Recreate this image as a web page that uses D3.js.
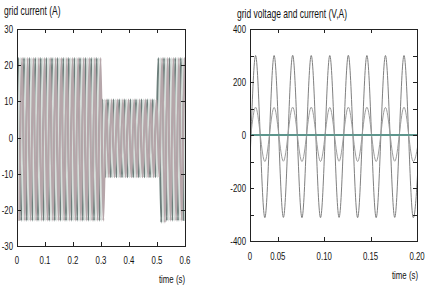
<!DOCTYPE html>
<html lang="en">
<head>
    <meta charset="UTF-8">
    <title>grid current / grid voltage and current</title>
    <style>
        body { margin: 0; background: #fff; }
        svg { display: block; }
        text { font-family: "Liberation Sans", Arial, sans-serif; fill: #111; }
    </style>
</head>
<body>
    <script src="https://d3js.org/d3.v7.min.js"></script>
    <script>
        // left panel: three phase grid current, one peak/trough per 50 Hz cycle
        const gridCycleStart = [0, 0.02, 0.04, 0.06, 0.08, 0.10, 0.12, 0.14, 0.16, 0.18,
            0.20, 0.22, 0.24, 0.26, 0.28, 0.30, 0.32, 0.34, 0.36, 0.38,
            0.40, 0.42, 0.44, 0.46, 0.48, 0.50, 0.52, 0.54, 0.56, 0.58]
        const gridPeak = [22, 22, 22, 22, 22, 22, 22, 22, 22, 22,
            22, 22, 22, 22, 22, 10.5, 10.5, 10.5, 10.5, 10.5,
            10.5, 10.5, 10.5, 10.5, 10.5, 22, 22, 22, 22, 22]
        const gridTrough = [-23, -23, -23, -23, -23, -23, -23, -23, -23, -23,
            -23, -23, -23, -23, -23, -11, -11, -11, -11, -11,
            -11, -11, -11, -11, -11, -23.5, -23, -23, -23, -23]
        const phaseShift = [0, 0.0067, 0.0133]
        const leftXTicks = [0, 0.1, 0.2, 0.3, 0.4, 0.5, 0.6]
        const leftYTicks = [-30, -20, -10, 0, 10, 20, 30]

        // right panel: grid voltage and current extrema
        const peakTimes = [0.006, 0.026, 0.046, 0.066, 0.086, 0.106, 0.126, 0.146, 0.166, 0.186, 0.206]
        const troughTimes = [0.016, 0.036, 0.056, 0.076, 0.096, 0.116, 0.136, 0.156, 0.176, 0.196]
        const voltPeaks = [300, 300, 300, 301, 300, 300, 301, 300, 300, 300, 300]
        const voltTroughs = [-312, -312, -311, -312, -312, -311, -312, -312, -311, -312]
        const currPeaks = [105, 105, 104, 105, 105, 104, 105, 105, 104, 105, 105]
        const currTroughs = [-100, -100, -99, -100, -100, -99, -100, -100, -99, -100]
        const refTimes = [0.02, 0.2]
        const refValues = [0, 0]
        const rightXTicks = [0.02, 0.05, 0.10, 0.15, 0.20]
        const rightXLabels = ['0', '0.05', '0.10', '0.15', '0.20']
        const rightYTicks = [-400, -200, 0, 200, 400]
        const rightMinorTicks = [-300, -100, 100, 300]

        const width = 428
        const height = 294
        const phaseColors = ['#6c7e7b', '#d6dfdb', '#b6a6aa']
        const squeeze = 0.68

        const svg = d3.select('body').append('svg')
            .attr('width', width)
            .attr('height', height)

        // narrow text, the picture uses a condensed face
        function label(g, x, y, str, size, anchor) {
            return g.append('text')
                .attr('transform', `translate(${x},${y}) scale(${squeeze},1)`)
                .attr('text-anchor', anchor || 'start')
                .attr('font-size', size)
                .text(str)
        }

        function frame(g, x, y, xTicks, yTicks, xFmt, minorY, xLabY) {
            const [x0, x1] = x.range()
            const [y0, y1] = y.range()
            g.append('rect')
                .attr('x', x0 + 0.5).attr('y', y1 + 0.5)
                .attr('width', x1 - x0).attr('height', y0 - y1)
                .attr('fill', 'none').attr('stroke', '#222').attr('stroke-width', 1)

            const tl = 4
            const allY = yTicks.concat(minorY || [])
            xTicks.forEach(t => {
                const px = Math.round(x(t)) + 0.5
                g.append('line').attr('x1', px).attr('x2', px).attr('y1', y0).attr('y2', y0 - tl)
                    .attr('stroke', '#222')
                g.append('line').attr('x1', px).attr('x2', px).attr('y1', y1).attr('y2', y1 + tl)
                    .attr('stroke', '#222')
            })
            allY.forEach(t => {
                const py = Math.round(y(t)) + 0.5
                g.append('line').attr('x1', x0).attr('x2', x0 + tl).attr('y1', py).attr('y2', py)
                    .attr('stroke', '#222')
                g.append('line').attr('x1', x1).attr('x2', x1 - tl).attr('y1', py).attr('y2', py)
                    .attr('stroke', '#222')
            })
            xTicks.forEach((t, i) => label(g, x(t), y0 + xLabY, xFmt(t, i), 11.5, 'middle'))
            yTicks.forEach(t => label(g, x0 - 4, y(t) + 4, String(t), 11.5, 'end'))
        }

        // ---------- left panel ----------
        const xL = d3.scaleLinear().domain([0, 0.6]).range([17, 185])
        const yL = d3.scaleLinear().domain([-30, 30]).range([246, 29])

        svg.append('clipPath').attr('id', 'clipL')
            .append('rect').attr('x', 17).attr('y', 29).attr('width', 168).attr('height', 217)

        const lineL = d3.line()
            .x(d => xL(d[0]))
            .y(d => yL(d[1]))
            .curve(d3.curveMonotoneX)

        const left = svg.append('g')
        const traces = left.append('g').attr('clip-path', 'url(#clipL)')
        phaseShift.forEach((shift, p) => {
            const pts = [[gridCycleStart[0] - 0.005 + shift, gridTrough[0]]]
            gridCycleStart.forEach((s, k) => {
                pts.push([s + 0.005 + shift, gridPeak[k]])
                pts.push([s + 0.015 + shift, gridTrough[k]])
            })
            traces.append('path')
                .attr('d', lineL(pts))
                .attr('fill', 'none')
                .attr('stroke', phaseColors[p])
                .attr('stroke-width', 2)
        })

        frame(left, xL, yL, leftXTicks, leftYTicks, t => d3.format('.1~f')(t), null, 18)

        label(left, 4, 15, 'grid current (A)', 12.5)
        label(left, 185, 283, 'time (s)', 11.5, 'end')

        // ---------- right panel ----------
        const xR = d3.scaleLinear().domain([0.02, 0.2]).range([250, 417])
        const yR = d3.scaleLinear().domain([-400, 400]).range([241, 29])

        svg.append('clipPath').attr('id', 'clipR')
            .append('rect').attr('x', 250).attr('y', 29).attr('width', 167).attr('height', 212)

        const lineR = d3.line()
            .x(d => xR(d[0]))
            .y(d => yR(d[1]))
            .curve(d3.curveMonotoneX)

        function merge(pk, tr) {
            const pts = []
            peakTimes.forEach((t, i) => {
                pts.push([t, pk[i]])
                if (i < troughTimes.length) pts.push([troughTimes[i], tr[i]])
            })
            return pts
        }

        const right = svg.append('g')
        const rTraces = right.append('g').attr('clip-path', 'url(#clipR)')
        rTraces.append('path')
            .attr('d', lineR(merge(voltPeaks, voltTroughs)))
            .attr('fill', 'none').attr('stroke', '#808080').attr('stroke-width', 1)
        rTraces.append('path')
            .attr('d', lineR(merge(currPeaks, currTroughs)))
            .attr('fill', 'none').attr('stroke', '#9c9c9c').attr('stroke-width', 1)
        rTraces.append('path')
            .attr('d', d3.line().x(d => xR(d[0])).y(d => yR(d[1]))(refTimes.map((t, i) => [t, refValues[i]])))
            .attr('fill', 'none').attr('stroke', '#5e968d').attr('stroke-width', 2)

        frame(right, xR, yR, rightXTicks, rightYTicks, (t, i) => rightXLabels[i], rightMinorTicks, 19)

        label(right, 237, 18, 'grid voltage and current (V,A)', 12.5)
        label(right, 418, 279, 'time (s)', 11.5, 'end')
    </script>
</body>
</html>
